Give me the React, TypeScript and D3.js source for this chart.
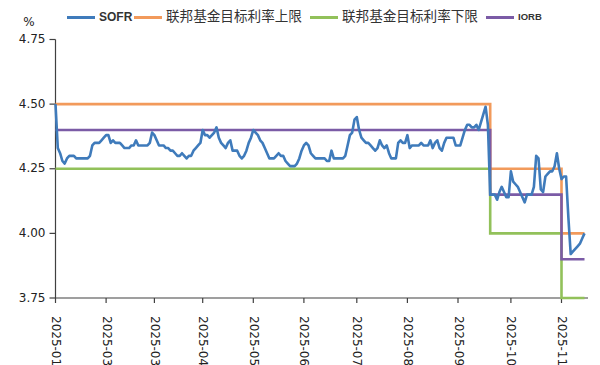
// SOFR frente al rango objetivo de los fondos federales y la IORB
import { useRef, useEffect } from 'react'
import * as d3 from 'd3'

// SOFR diario (%), un valor por día hábil
const SOFR = [
  4.50, 4.33, 4.31, 4.28, 4.27, 4.29, 4.30, 4.30, 4.30, 4.29,
  4.29, 4.29, 4.29, 4.29, 4.29, 4.30, 4.34, 4.35, 4.35, 4.35,
  4.36, 4.37, 4.38, 4.38, 4.35, 4.36, 4.35, 4.35, 4.35, 4.34,
  4.33, 4.33, 4.33, 4.34, 4.34, 4.36, 4.34, 4.34, 4.34, 4.34,
  4.34, 4.35, 4.39, 4.38, 4.36, 4.34, 4.34, 4.34, 4.33, 4.33,
  4.32, 4.32, 4.31, 4.30, 4.30, 4.31, 4.30, 4.29, 4.30, 4.30,
  4.32, 4.33, 4.34, 4.35, 4.40, 4.38, 4.38, 4.37, 4.38, 4.39,
  4.41, 4.37, 4.35, 4.34, 4.33, 4.35, 4.36, 4.32, 4.32, 4.32,
  4.30, 4.29, 4.30, 4.32, 4.35, 4.37, 4.40, 4.39, 4.38, 4.36,
  4.35, 4.33, 4.31, 4.29, 4.29, 4.29, 4.30, 4.31, 4.30, 4.30,
  4.28, 4.27, 4.26, 4.26, 4.26, 4.27, 4.29, 4.32, 4.34, 4.35,
  4.34, 4.31, 4.30, 4.29, 4.29, 4.29, 4.29, 4.29, 4.28, 4.28,
  4.32, 4.29, 4.29, 4.29, 4.29, 4.29, 4.30, 4.34, 4.38, 4.39,
  4.44, 4.45, 4.40, 4.37, 4.36, 4.35, 4.35, 4.34, 4.33, 4.32,
  4.33, 4.36, 4.34, 4.33, 4.34, 4.31, 4.29, 4.29, 4.29, 4.35,
  4.36, 4.35, 4.35, 4.38, 4.33, 4.34, 4.34, 4.34, 4.34, 4.35,
  4.34, 4.34, 4.34, 4.36, 4.33, 4.35, 4.36, 4.33, 4.32, 4.35,
  4.37, 4.37, 4.37, 4.37, 4.34, 4.34, 4.34, 4.37, 4.40, 4.42,
  4.42, 4.41, 4.41, 4.42, 4.40, 4.43, 4.46, 4.49, 4.42, 4.15,
  4.15, 4.15, 4.13, 4.16, 4.18, 4.16, 4.14, 4.14, 4.24, 4.20,
  4.19, 4.18, 4.16, 4.14, 4.12, 4.15, 4.15, 4.15, 4.18, 4.30,
  4.29, 4.17, 4.16, 4.22, 4.23, 4.24, 4.24, 4.26, 4.31, 4.25,
  4.21, 4.22, 4.22, 4.06, 3.92, 3.93, 3.94, 3.95, 3.96, 3.98,
  4.00,
]

// Tramos de política: día en que empieza cada nivel
const POLICY_DAYS = [0, 189, 220, 230]
const UPPER = [4.5, 4.25, 4.0, 4.0]
const LOWER = [4.25, 4.0, 3.75, 3.75]
const IORB = [4.4, 4.15, 3.9, 3.9]

// Eje X: marcas cada ~22 días hábiles
const TICK_DAYS = [0, 22, 43, 64, 86, 108, 131, 153, 175, 198, 220]
const TICK_LABELS = ['2025-01', '2025-03', '2025-03', '2025-04', '2025-05', '2025-06',
  '2025-07', '2025-08', '2025-09', '2025-10', '2025-11']
const Y_TICKS = [3.75, 4.0, 4.25, 4.5, 4.75]

const LEGEND = [
  { name: 'SOFR', color: '#3f7bbb', font: 'bold 12px "Liberation Sans Narrow", "Liberation Sans", sans-serif', w: 29 },
  { name: '联邦基金目标利率上限', color: '#f29a5b', font: '13.6px "Noto Sans CJK SC", sans-serif', w: 138 },
  { name: '联邦基金目标利率下限', color: '#92c15a', font: '13.6px "Noto Sans CJK SC", sans-serif', w: 138 },
  { name: 'IORB', color: '#7b5ba6', font: 'bold 9.5px "Liberation Sans", sans-serif', w: 24 },
]

export default function App() {
  const svgRef = useRef<SVGSVGElement>(null)

  useEffect(() => {
    const width = 600
    const height = 365
    const svg = d3.select(svgRef.current)
      .attr('width', width)
      .attr('height', height)
    svg.selectAll('*').remove()

    const x = d3.scaleLinear().domain([0, SOFR.length - 1]).range([55.5, 584.5])
    const y = d3.scaleLinear().domain([3.75, 4.75]).range([298, 39.5])
    const axisColor = '#404040'
    const tickFont = '"DejaVu Sans", sans-serif'

    // Eje Y
    svg.append('line')
      .attr('x1', x(0)).attr('x2', x(0))
      .attr('y1', y(4.75)).attr('y2', y(3.75))
      .attr('stroke', axisColor).attr('stroke-width', 1.2)
    svg.selectAll('line.ytick')
      .data(Y_TICKS)
      .join('line')
      .attr('class', 'ytick')
      .attr('x1', x(0) - 6).attr('x2', x(0))
      .attr('y1', d => y(d)).attr('y2', d => y(d))
      .attr('stroke', axisColor).attr('stroke-width', 1.2)
    svg.selectAll('text.ylabel')
      .data(Y_TICKS)
      .join('text')
      .attr('class', 'ylabel')
      .attr('x', x(0) - 10)
      .attr('y', d => y(d))
      .attr('text-anchor', 'end')
      .attr('dominant-baseline', 'middle')
      .attr('font-family', tickFont)
      .attr('font-size', '12px')
      .attr('fill', '#222')
      .text(d => d3.format('.2f')(d))
    svg.append('text')
      .attr('x', 29).attr('y', 22)
      .attr('text-anchor', 'middle')
      .attr('dominant-baseline', 'middle')
      .attr('font-family', tickFont)
      .attr('font-size', '12px')
      .attr('fill', '#222')
      .text('%')

    // Eje X
    svg.append('line')
      .attr('x1', x(0)).attr('x2', 588)
      .attr('y1', y(3.75)).attr('y2', y(3.75))
      .attr('stroke', axisColor).attr('stroke-width', 1.2)
    svg.selectAll('line.xtick')
      .data(TICK_DAYS)
      .join('line')
      .attr('class', 'xtick')
      .attr('x1', d => x(d)).attr('x2', d => x(d))
      .attr('y1', y(3.75)).attr('y2', y(3.75) + 5)
      .attr('stroke', axisColor).attr('stroke-width', 1.2)
    svg.selectAll('text.xlabel')
      .data(TICK_DAYS)
      .join('text')
      .attr('class', 'xlabel')
      .attr('transform', d => `translate(${x(d)}, ${y(3.75) + 18}) rotate(90)`)
      .attr('dominant-baseline', 'middle')
      .attr('font-family', tickFont)
      .attr('font-size', '12px')
      .attr('fill', '#222')
      .text((d, i) => TICK_LABELS[i])

    // Líneas de política (escalonadas)
    const step = d3.line<number>()
      .x((d, i) => x(POLICY_DAYS[i]))
      .y(d => y(d))
      .curve(d3.curveStepAfter)

    const policy = [
      { values: UPPER, color: LEGEND[1].color },
      { values: LOWER, color: LEGEND[2].color },
      { values: IORB, color: LEGEND[3].color },
    ]
    policy.forEach(p => {
      svg.append('path')
        .attr('d', step(p.values))
        .attr('fill', 'none')
        .attr('stroke', p.color)
        .attr('stroke-width', 2.6)
    })

    // SOFR
    const line = d3.line<number>()
      .x((d, i) => x(i))
      .y(d => y(d))
    svg.append('path')
      .attr('d', line(SOFR))
      .attr('fill', 'none')
      .attr('stroke', LEGEND[0].color)
      .attr('stroke-width', 2.6)
      .attr('stroke-linejoin', 'round')

    // Leyenda
    let lx = 67
    const ly = 17.5
    LEGEND.forEach(s => {
      svg.append('line')
        .attr('x1', lx).attr('x2', lx + 28)
        .attr('y1', ly).attr('y2', ly)
        .attr('stroke', s.color)
        .attr('stroke-width', 3)
      svg.append('text')
        .attr('x', lx + 32)
        .attr('y', ly)
        .attr('dominant-baseline', 'middle')
        .attr('style', `font: ${s.font}`)
        .attr('fill', '#333')
        .text(s.name)
      lx += 32 + s.w + 6
    })
  }, [])

  return <svg ref={svgRef} style={{ position: 'absolute', left: 0, top: 0, display: 'block', background: '#fff' }} />
}
